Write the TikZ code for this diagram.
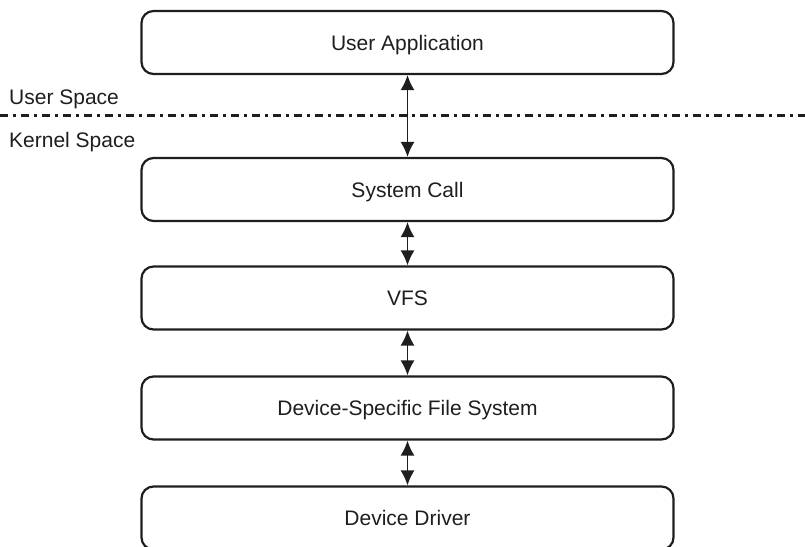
\documentclass[tikz,border=0pt]{standalone}
\usepackage{fontspec}
\setmainfont{Liberation Sans}
\usepackage{xcolor}
\usetikzlibrary{arrows.meta}
\definecolor{inkblack}{RGB}{30,30,30}
\tikzset{
  layer/.style={draw=inkblack,rounded corners=12pt,line width=2.2pt,
    minimum width=532pt,minimum height=63pt,inner sep=0pt,text depth=0pt,
    font=\fontsize{21}{24}\selectfont,text=inkblack},
  updown/.style={{Latex[length=15pt,width=14pt]}-{Latex[length=15pt,width=14pt]},
    line width=1.6pt,draw=inkblack},
  border/.style={draw=inkblack,line width=2.2pt,
    dash pattern=on 8pt off 5pt on 3pt off 5pt},
  spacelabel/.style={anchor=base west,inner sep=0pt,
    font=\fontsize{21}{24}\selectfont,text=inkblack}
}
\begin{document}
\begin{tikzpicture}[x=1pt,y=1pt]
  \useasboundingbox (0,0) rectangle (805,-546);
  \clip (0,0) rectangle (805,-546);
  % layers, top to bottom
  \node[layer] (app) at (407.5,-42.5) {User Application};
  \node[layer] (sys) at (407.5,-189.5) {System Call};
  \node[layer] (vfs) at (407.5,-298) {VFS};
  \node[layer] (dsfs) at (407.5,-408) {Device-Specific File System};
  \node[layer] (drv) at (407.5,-518) {Device Driver};
  % user/kernel boundary
  \coordinate (bl) at (0,-115.5);
  \coordinate (br) at (805,-115.5);
  \draw[border] (bl) -- (br);
  \node[spacelabel] (user) at (9,-104) {User Space};
  \node[spacelabel] (kernel) at (9,-147) {Kernel Space};
  % calls between layers
  \draw[updown] (app.south) -- (sys.north);
  \draw[updown] (sys.south) -- (vfs.north);
  \draw[updown] (vfs.south) -- (dsfs.north);
  \draw[updown] (dsfs.south) -- (drv.north);
\end{tikzpicture}
\end{document}
